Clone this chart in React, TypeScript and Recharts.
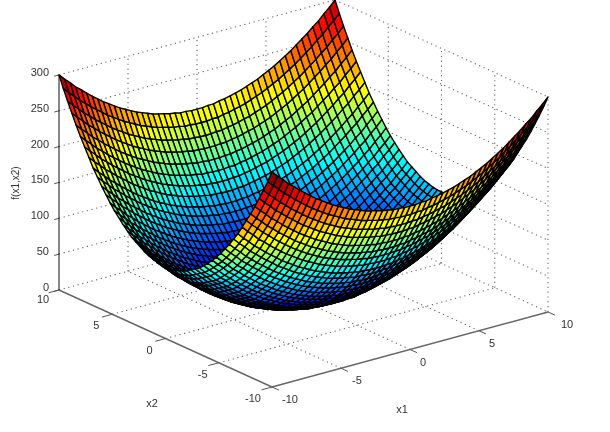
import React from 'react';
import { ScatterChart, Scatter, XAxis, YAxis, ReferenceLine } from 'recharts';

// Surface heights; columns run x1 = -10..10 and rows x2 = -10..10, step 0.4.
const x1Values = [-10,-9.6,-9.2,-8.8,-8.4,-8,-7.6,-7.2,-6.8,-6.4,-6,-5.6,-5.2,-4.8,-4.4,-4,-3.6,-3.2,-2.8,-2.4,-2,-1.6,-1.2,-0.8,-0.4,0,0.4,0.8,1.2,1.6,2,2.4,2.8,3.2,3.6,4,4.4,4.8,5.2,5.6,6,6.4,6.8,7.2,7.6,8,8.4,8.8,9.2,9.6,10];
const x2Values = x1Values;
const r0 = [300,292,285,277,271,264,258,252,246,241,236,231,227,223,219,216,213,210,208,206,204,203,201,201,200,200,200,201,201,203,204,206,208,210,213,216,219,223,227,231,236,241,246,252,258,264,271,277,285,292,300];
const r1 = [284,276,269,261,255,248,242,236,230,225,220,215,211,207,203,200,197,194,192,190,188,187,185,185,184,184,184,185,185,187,188,190,192,194,197,200,203,207,211,215,220,225,230,236,242,248,255,261,269,276,284];
const r2 = [269,261,254,246,240,233,227,221,215,210,205,200,196,192,188,185,182,179,177,175,173,172,170,170,169,169,169,170,170,172,173,175,177,179,182,185,188,192,196,200,205,210,215,221,227,233,240,246,254,261,269];
const r3 = [255,247,240,232,226,219,213,207,201,196,191,186,182,178,174,171,168,165,163,161,159,158,156,156,155,155,155,156,156,158,159,161,163,165,168,171,174,178,182,186,191,196,201,207,213,219,226,232,240,247,255];
const r4 = [241,233,226,218,212,205,199,193,187,182,177,172,168,164,160,157,154,151,149,147,145,144,142,142,141,141,141,142,142,144,145,147,149,151,154,157,160,164,168,172,177,182,187,193,199,205,212,218,226,233,241];
const r5 = [228,220,213,205,199,192,186,180,174,169,164,159,155,151,147,144,141,138,136,134,132,131,129,129,128,128,128,129,129,131,132,134,136,138,141,144,147,151,155,159,164,169,174,180,186,192,199,205,213,220,228];
const r6 = [216,208,201,193,187,180,174,168,162,157,152,147,143,139,135,132,129,126,124,122,120,119,117,117,116,116,116,117,117,119,120,122,124,126,129,132,135,139,143,147,152,157,162,168,174,180,187,193,201,208,216];
const r7 = [204,196,189,181,175,168,162,156,150,145,140,135,131,127,123,120,117,114,112,110,108,107,105,105,104,104,104,105,105,107,108,110,112,114,117,120,123,127,131,135,140,145,150,156,162,168,175,181,189,196,204];
const r8 = [192,184,177,169,163,156,150,144,138,133,128,123,119,115,111,108,105,102,100,98,96,95,93,93,92,92,92,93,93,95,96,98,100,102,105,108,111,115,119,123,128,133,138,144,150,156,163,169,177,184,192];
const r9 = [182,174,167,159,153,146,140,134,128,123,118,113,109,105,101,98,95,92,90,88,86,85,83,83,82,82,82,83,83,85,86,88,90,92,95,98,101,105,109,113,118,123,128,134,140,146,153,159,167,174,182];
const r10 = [172,164,157,149,143,136,130,124,118,113,108,103,99,95,91,88,85,82,80,78,76,75,73,73,72,72,72,73,73,75,76,78,80,82,85,88,91,95,99,103,108,113,118,124,130,136,143,149,157,164,172];
const r11 = [163,155,148,140,134,127,121,115,109,104,99,94,90,86,82,79,76,73,71,69,67,66,64,64,63,63,63,64,64,66,67,69,71,73,76,79,82,86,90,94,99,104,109,115,121,127,134,140,148,155,163];
const r12 = [154,146,139,131,125,118,112,106,100,95,90,85,81,77,73,70,67,64,62,60,58,57,55,55,54,54,54,55,55,57,58,60,62,64,67,70,73,77,81,85,90,95,100,106,112,118,125,131,139,146,154];
const r13 = [146,138,131,123,117,110,104,98,92,87,82,77,73,69,65,62,59,56,54,52,50,49,47,47,46,46,46,47,47,49,50,52,54,56,59,62,65,69,73,77,82,87,92,98,104,110,117,123,131,138,146];
const r14 = [139,131,124,116,110,103,97,91,85,80,75,70,66,62,58,55,52,49,47,45,43,42,40,40,39,39,39,40,40,42,43,45,47,49,52,55,58,62,66,70,75,80,85,91,97,103,110,116,124,131,139];
const r15 = [132,124,117,109,103,96,90,84,78,73,68,63,59,55,51,48,45,42,40,38,36,35,33,33,32,32,32,33,33,35,36,38,40,42,45,48,51,55,59,63,68,73,78,84,90,96,103,109,117,124,132];
const r16 = [126,118,111,103,97,90,84,78,72,67,62,57,53,49,45,42,39,36,34,32,30,29,27,27,26,26,26,27,27,29,30,32,34,36,39,42,45,49,53,57,62,67,72,78,84,90,97,103,111,118,126];
const r17 = [120,112,105,97,91,84,78,72,66,61,56,51,47,43,39,36,33,30,28,26,24,23,21,21,20,20,20,21,21,23,24,26,28,30,33,36,39,43,47,51,56,61,66,72,78,84,91,97,105,112,120];
const r18 = [116,108,101,93,87,80,74,68,62,57,52,47,43,39,35,32,29,26,24,22,20,19,17,17,16,16,16,17,17,19,20,22,24,26,29,32,35,39,43,47,52,57,62,68,74,80,87,93,101,108,116];
const r19 = [112,104,97,89,83,76,70,64,58,53,48,43,39,35,31,28,25,22,20,18,16,15,13,13,12,12,12,13,13,15,16,18,20,22,25,28,31,35,39,43,48,53,58,64,70,76,83,89,97,104,112];
const r20 = [108,100,93,85,79,72,66,60,54,49,44,39,35,31,27,24,21,18,16,14,12,11,9,9,8,8,8,9,9,11,12,14,16,18,21,24,27,31,35,39,44,49,54,60,66,72,79,85,93,100,108];
const r21 = [105,97,90,82,76,69,63,57,51,46,41,36,32,28,24,21,18,15,13,11,9,8,6,6,5,5,5,6,6,8,9,11,13,15,18,21,24,28,32,36,41,46,51,57,63,69,76,82,90,97,105];
const r22 = [103,95,88,80,74,67,61,55,49,44,39,34,30,26,22,19,16,13,11,9,7,6,4,4,3,3,3,4,4,6,7,9,11,13,16,19,22,26,30,34,39,44,49,55,61,67,74,80,88,95,103];
const r23 = [101,93,86,78,72,65,59,53,47,42,37,32,28,24,20,17,14,11,9,7,5,4,2,2,1,1,1,2,2,4,5,7,9,11,14,17,20,24,28,32,37,42,47,53,59,65,72,78,86,93,101];
const r24 = [100,92,85,77,71,64,58,52,46,41,36,31,27,23,19,16,13,10,8,6,4,3,1,1,0,0,0,1,1,3,4,6,8,10,13,16,19,23,27,31,36,41,46,52,58,64,71,77,85,92,100];
const surfaceRows = [r0,r1,r2,r3,r4,r5,r6,r7,r8,r9,r10,r11,r12,r13,r14,r15,r16,r17,r18,r19,r20,r21,r22,r23,r24,r24,r24,r23,r22,r21,r20,r19,r18,r17,r16,r15,r14,r13,r12,r11,r10,r9,r8,r7,r6,r5,r4,r3,r2,r1,r0];

const zTicks = [0, 50, 100, 150, 200, 250, 300];
const floorTicks = [-10, -5, 0, 5, 10];
const innerTicks = [-5, 0, 5];
const zMax = 300;

const xAxisLabel = 'x1';
const yAxisLabel = 'x2';
const zAxisLabel = 'f(x1,x2)';

const W = 610;
const H = 432;
const project = (x1: number, x2: number, z: number) => ({
  sx: 303.5 + 13.8 * x1 - 10.65 * x2,
  sy: 301 - 3.75 * x1 - 4.85 * x2 - 0.717 * z,
});
const nearness = (x1: number, x2: number, z: number) => -7.64 * x1 - 9.89 * x2 + 106.87 * z;

const jet = (v: number) => {
  const level = Math.min(63, Math.max(0, Math.floor((v / zMax) * 64)));
  const t = (level + 0.5) / 64;
  const ch = (c: number) => Math.round(255 * Math.max(0, Math.min(1, 1.5 - Math.abs(4 * t - c))));
  return `rgb(${ch(3)},${ch(2)},${ch(1)})`;
};

type Facet = { sx: number; sy: number; pts: { sx: number; sy: number }[]; fill: string; depth: number };
const facets: Facet[] = [];
for (let j = 0; j < x2Values.length - 1; j++) {
  for (let i = 0; i < x1Values.length - 1; i++) {
    const corners = [
      [i, j],
      [i + 1, j],
      [i + 1, j + 1],
      [i, j + 1],
    ].map(([a, b]) => project(x1Values[a], x2Values[b], surfaceRows[b][a]));
    const xm = (x1Values[i] + x1Values[i + 1]) / 2;
    const ym = (x2Values[j] + x2Values[j + 1]) / 2;
    const zm = (surfaceRows[j][i] + surfaceRows[j][i + 1] + surfaceRows[j + 1][i] + surfaceRows[j + 1][i + 1]) / 4;
    facets.push({
      sx: corners.reduce((s, c) => s + c.sx, 0) / 4,
      sy: corners.reduce((s, c) => s + c.sy, 0) / 4,
      pts: corners,
      fill: jet(surfaceRows[j][i]),
      depth: nearness(xm, ym, zm),
    });
  }
}
facets.sort((a, b) => a.depth - b.depth);

const FacetShape = (props: any) => {
  const f: Facet = props.payload ?? props;
  const points = f.pts.map((p) => `${props.cx + p.sx - f.sx},${props.cy + p.sy - f.sy}`).join(' ');
  return <polygon points={points} fill={f.fill} stroke="#000" strokeWidth={1.4} strokeLinejoin="round" />;
};

type Label = { sx: number; sy: number; text: string; anchor: string; rotate?: number };
const x1LabelOffsets = [18, 16, 13, 13, 19];
const labels: Label[] = [
  ...zTicks.map((z) => {
    const p = project(-10, 10, z);
    return { sx: p.sx - 10, sy: p.sy - 3, text: String(z), anchor: 'end' };
  }),
  ...floorTicks.map((t) => {
    const p = project(-10, t, 0);
    return { sx: p.sx - (t === -10 ? 19 : 16), sy: p.sy + (t === 10 ? 9 : 11), text: String(t), anchor: 'middle' };
  }),
  ...floorTicks.map((t, i) => {
    const p = project(t, -10, 0);
    return { sx: p.sx + x1LabelOffsets[i], sy: p.sy + 12, text: String(t), anchor: 'middle' };
  }),
  { sx: 402, sy: 409, text: xAxisLabel, anchor: 'middle' },
  { sx: 152, sy: 403, text: yAxisLabel, anchor: 'middle' },
  { sx: 15, sy: 183, text: zAxisLabel, anchor: 'middle', rotate: -90 },
];

const LabelShape = (props: any) => {
  const l: Label = props.payload ?? props;
  return (
    <text
      x={props.cx}
      y={props.cy}
      textAnchor={l.anchor as any}
      dominantBaseline="central"
      fontFamily="'Liberation Sans', Arial, sans-serif"
      fontSize={l.rotate ? 10 : 11}
      fill="#333"
      transform={l.rotate ? `rotate(${l.rotate} ${props.cx} ${props.cy})` : undefined}
    >
      {l.text}
    </text>
  );
};

type Seg = { a: { sx: number; sy: number }; b: { sx: number; sy: number } };
const seg = (p: number[], q: number[]): Seg => ({
  a: project(p[0], p[1], p[2]),
  b: project(q[0], q[1], q[2]),
});

const gridSegs: Seg[] = [
  ...innerTicks.map((t) => seg([t, -10, 0], [t, 10, 0])),
  ...innerTicks.map((t) => seg([-10, t, 0], [10, t, 0])),
  ...[...innerTicks, 10].map((t) => seg([t, 10, 0], [t, 10, zMax])),
  ...innerTicks.map((t) => seg([10, t, 0], [10, t, zMax])),
  seg([10, -10, 0], [10, -10, zMax]),
  ...zTicks.map((z) => seg([-10, 10, z], [10, 10, z])),
  ...zTicks.map((z) => seg([10, 10, z], [10, -10, z])),
];

const axisSegs: Seg[] = [seg([-10, -10, 0], [10, -10, 0]), seg([-10, -10, 0], [-10, 10, 0])];
const tickSegs: Seg[] = [
  ...floorTicks.map((t) => seg([-10, t, 0], [-10.75, t, 0])),
  ...floorTicks.map((t) => seg([t, -10, 0], [t, -10.65, 0])),
  ...zTicks.map((z) => seg([-10, 10, z], [-10.35, 10, z])),
];
const zAxisSeg = seg([-10, 10, 0], [-10, 10, zMax]);

const segLine = (s: Seg) => [
  { x: s.a.sx, y: s.a.sy },
  { x: s.b.sx, y: s.b.sy },
];

export default function App() {
  return (
    <div style={{ position: 'absolute', left: 0, top: 0, width: W, height: H, background: '#fff', filter: 'blur(0.4px)' }}>
      <ScatterChart width={W} height={H} margin={{ top: 0, right: 0, bottom: 0, left: 0 }}>
        <XAxis type="number" dataKey="sx" domain={[0, W]} hide allowDataOverflow />
        <YAxis type="number" dataKey="sy" domain={[0, H]} reversed hide allowDataOverflow />
        {gridSegs.map((s, i) => (
          <ReferenceLine
            key={`g${i}`}
            segment={segLine(s)}
            stroke="#666"
            strokeWidth={1.1}
            strokeDasharray="1.2 3.6"
            ifOverflow="visible"
          />
        ))}
        {axisSegs.map((s, i) => (
          <ReferenceLine key={`a${i}`} segment={segLine(s)} stroke="#666" strokeWidth={1.4} ifOverflow="visible" />
        ))}
        {tickSegs.map((s, i) => (
          <ReferenceLine key={`t${i}`} segment={segLine(s)} stroke="#555" strokeWidth={1} ifOverflow="visible" />
        ))}
        <ReferenceLine segment={segLine(zAxisSeg)} stroke="#111" strokeWidth={1} ifOverflow="visible" />
        <Scatter data={facets} dataKey="sy" shape={FacetShape} isAnimationActive={false} />
        <Scatter data={labels} dataKey="sy" shape={LabelShape} isAnimationActive={false} />
      </ScatterChart>
    </div>
  );
}
